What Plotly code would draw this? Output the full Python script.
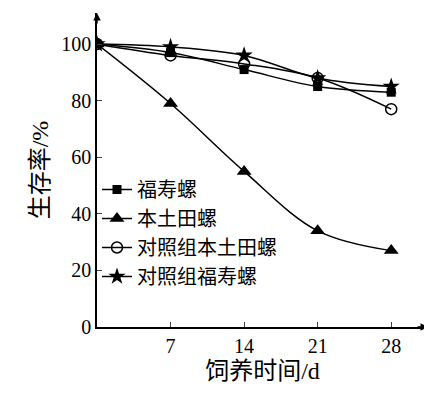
import plotly.graph_objects as go

days = [0, 7, 14, 21, 28]
fushou = [100, 97, 91, 85, 83]
bentu = [100, 79, 55, 34, 27]
ctrl_bentu = [100, 96, 93, 88, 77]
ctrl_fushou = [100, 99, 96, 88, 85]

series = [
    ("福寿螺", fushou, dict(symbol="square", size=9, color="black")),
    ("本土田螺", bentu, dict(symbol="triangle-up", size=13, color="black")),
    ("对照组本土田螺", ctrl_bentu, dict(symbol="circle-open", size=11, color="black", line=dict(width=1.5, color="black"))),
    ("对照组福寿螺", ctrl_fushou, dict(symbol="star", size=13, color="black")),
]

fig = go.Figure()
for name, vals, mk in series:
    fig.add_trace(go.Scatter(x=days, y=vals, name=name, mode="lines+markers",
                             line=dict(color="black", width=1.5, shape="spline"),
                             marker=mk))

font = "Liberation Serif, Noto Sans CJK SC"
fig.update_layout(
    width=432, height=401, plot_bgcolor="white", paper_bgcolor="white",
    margin=dict(l=89, r=12, t=5, b=82),
    font=dict(family=font, size=20, color="black"),
    legend=dict(x=0.0, y=0.5, xanchor="left", yanchor="top", bgcolor="rgba(0,0,0,0)",
                font=dict(size=20), tracegroupgap=0, itemwidth=30),
    xaxis=dict(range=[0, 31.5], tickvals=[7, 14, 21, 28], ticks="inside", ticklen=5,
               showline=True, linecolor="black", linewidth=1.5, showgrid=False, zeroline=False,
               title=dict(text="饲养时间/d", standoff=6)),
    yaxis=dict(range=[0, 111], tickvals=[0, 20, 40, 60, 80, 100], ticks="inside", ticklen=5,
               showline=True, linecolor="black", linewidth=1.5, showgrid=False, zeroline=False,
               title=dict(text="生存率/%", standoff=6)),
)
# axis arrows
fig.add_annotation(x=1, y=0, xref="paper", yref="paper", ax=-12, ay=0, showarrow=True,
                   arrowhead=2, arrowsize=1, arrowwidth=1.5, arrowcolor="black", text="")
fig.add_annotation(x=0, y=1, xref="paper", yref="paper", ax=0, ay=12, showarrow=True,
                   arrowhead=2, arrowsize=1, arrowwidth=1.5, arrowcolor="black", text="")
fig.write_html("out.html")
